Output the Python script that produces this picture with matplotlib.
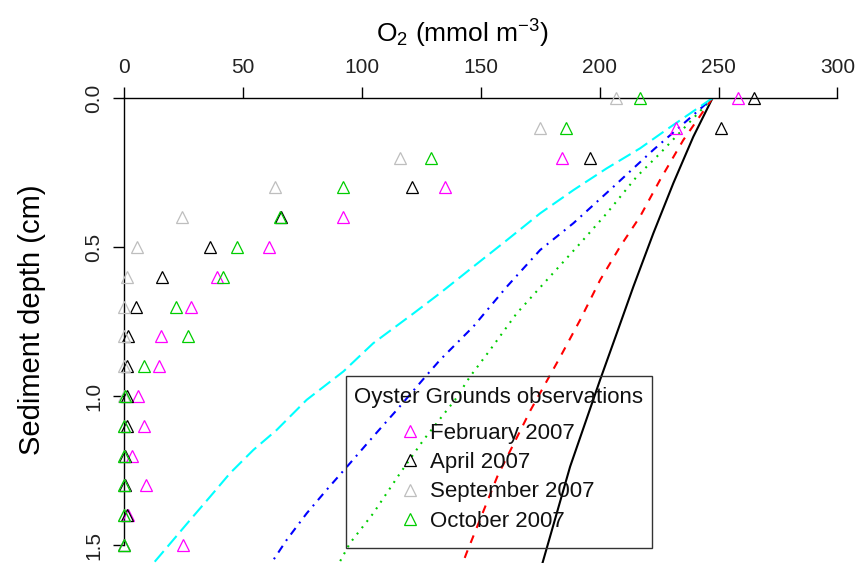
import matplotlib
matplotlib.use("Agg")
import matplotlib.pyplot as plt
from matplotlib import font_manager
from matplotlib.lines import Line2D
from matplotlib.patches import Rectangle

# observed O2 profiles (mmol m-3) at the Oyster Grounds, by depth (cm)
depth = [0.0, 0.1, 0.2, 0.3, 0.4, 0.5, 0.6, 0.7, 0.8, 0.9,
         1.0, 1.1, 1.2, 1.3, 1.4, 1.5]
feb = [258, 232, 184, 135, 92, 61, 39, 28, 15.4, 14.8, 6, 8.4, 3.2, 9.1, 1.8, 24.7]
apr = [265, 251, 196, 121, 66, 36, 16, 5, 1.8, 1.1, 1.4, 1.4, 0.4, 0.4, 1.4, 0.2]
sep = [207, 175, 116, 63.5, 24.3, 5.3, 1.4, 0, 0, 0, 0, 0, 0, 0, 0, 0]
octo = [217, 186, 129, 92, 65.6, 47.6, 41.5, 22, 27, 8.4, 0.4, 0, 0, 0, 0, 0]

obs_title = "Oyster Grounds observations"
obs_labels = ["February 2007", "April 2007", "September 2007", "October 2007"]
obs_colors = ["#FF00FF", "black", "#BEBEBE", "#00CD00"]

# model profiles
m1_depth = [0, 0.13, 0.286, 0.454, 0.633, 0.79, 0.946, 1.237, 1.56]
m1_o2 = [247.5, 239.4, 231, 222.6, 214.2, 207.2, 200.2, 187.6, 176]
m2_depth = [0, 0.141, 0.275, 0.398, 0.499, 0.611, 0.745, 0.868,
            1.047, 1.27, 1.528, 1.56]
m2_o2 = [247.5, 235.2, 225.4, 217, 208.6, 200.2, 191.8, 183.5,
         171, 157, 144, 142.5]
m3_depth = [0, 0.063, 0.186, 0.264, 0.387, 0.488, 0.611, 0.723, 0.846,
            0.935, 1.013, 1.148, 1.259, 1.394, 1.494, 1.56]
m3_o2 = [247.5, 240, 225.4, 215.6, 203, 191.8, 177.8, 165.1, 153.9,
         145.5, 139.2, 125.9, 116.1, 104.8, 95, 90.5]
m4_depth = [0, 0.074, 0.174, 0.298, 0.42, 0.51, 0.633, 0.767, 0.879, 0.93,
            1.047, 1.136, 1.226, 1.315, 1.394, 1.483, 1.56]
m4_o2 = [247.5, 237, 222.6, 205.8, 189, 175, 161, 146.9, 132.9, 127.3,
         114.7, 104.8, 95, 85.2, 76.8, 68.4, 62]
m5_depth = [0, 0.107, 0.169, 0.236, 0.309, 0.387, 0.477, 0.566, 0.655, 0.723,
            0.823, 0.918, 1.013, 1.114, 1.181, 1.259, 1.338, 1.416, 1.483, 1.56]
m5_o2 = [247.5, 228, 217, 203, 189, 175, 161, 146.9, 132.9, 121.7,
         104.8, 92.2, 76.8, 64.2, 54.4, 44.6, 36.2, 27.8, 20.7, 12.5]

have = {f.name for f in font_manager.fontManager.ttflist}
narrow = "Liberation Sans Narrow" if "Liberation Sans Narrow" in have else None

plt.rcParams["font.family"] = ["Liberation Sans", "DejaVu Sans"]
plt.rcParams["mathtext.fontset"] = "custom"
plt.rcParams["mathtext.rm"] = "Liberation Sans"
plt.rcParams["mathtext.it"] = "Liberation Sans"
plt.rcParams["lines.scale_dashes"] = False

W, H = 858., 563.
fig = plt.figure(figsize=(8.58, 5.63), dpi=100)
ax = fig.add_axes([124/W, 0.0, 713.4/W, 1 - 98/H])

lw = 1.5
ax.plot(m1_o2, m1_depth, color="black", lw=lw, ls="-")
ax.plot(m2_o2, m2_depth, color="#FF0000", lw=lw, ls=(0, (5.8, 5.8)))
ax.plot(m3_o2, m3_depth, color="#00CD00", lw=lw, ls=(0, (1.4, 4.3)))
ax.plot(m4_o2, m4_depth, color="#0000FF", lw=lw, ls=(0, (1.4, 4.3, 5.8, 4.3)))
ax.plot(m5_o2, m5_depth, color="#00FFFF", lw=lw, ls=(0, (10, 4.3)))

handles = []
for vals, col in zip([feb, apr, sep, octo], obs_colors):
    ax.plot(vals, depth, ls="none", marker="^", ms=8.6, mfc="none",
            mec=col, mew=0.9, clip_on=False, zorder=3)
    handles.append(Line2D([], [], ls="none", marker="^", ms=8.6,
                          mfc="none", mec=col, mew=0.9))

ax.set_xlim(0, 300)
ax.set_ylim(1.5604, 0)
ax.xaxis.tick_top()
ax.set_xticks([0, 50, 100, 150, 200, 250, 300])
ax.set_yticks([0.0, 0.5, 1.0, 1.5])
ax.set_yticklabels(["0.0", "0.5", "1.0", "1.5"], rotation=90, va="center")
for s in ["bottom", "right"]:
    ax.spines[s].set_visible(False)
ax.spines["top"].set_linewidth(1.0)
ax.spines["left"].set_linewidth(1.0)
ax.spines["left"].set_bounds(0, 1.5)
ax.patch.set_visible(False)

tick_font = narrow if narrow else "Liberation Sans"
tick_size = 18 if narrow else 15
ax.tick_params(axis="x", direction="out", length=8.1, width=1.0, pad=7.2,
               labelsize=tick_size)
ax.tick_params(axis="y", direction="out", length=8.0, width=1.0, pad=7,
               labelsize=tick_size)
for t in ax.get_xticklabels() + ax.get_yticklabels():
    t.set_fontfamily(tick_font)
    t.set_color("#222222")

fig.text(462/W, 1 - 43/H, r"O$_2$ (mmol m$^{-3}$)", ha="center",
         va="baseline", fontsize=19)
fig.text(32/W, 1 - 320/H, "Sediment depth (cm)", rotation=90,
         ha="center", va="center", fontsize=21)

# legend box, title and entries
fig.patches.append(Rectangle((346/W, 1 - 548/H), 306/W, 172/H,
                             transform=fig.transFigure, fill=False,
                             edgecolor="#333333", lw=1.0))
fig.text(499/W, 1 - 397/H, obs_title, ha="center", va="center",
         fontsize=16, color="#111111")
leg = ax.legend(handles, obs_labels, loc="upper left",
                bbox_to_anchor=(401/W, 1 - 423/H),
                bbox_transform=fig.transFigure, borderaxespad=0,
                fontsize=16, frameon=False, borderpad=0,
                labelspacing=0.37, handlelength=0.8, handletextpad=0.5)
for t in leg.get_texts():
    t.set_color("#111111")

fig.savefig("out.png", dpi=100)
